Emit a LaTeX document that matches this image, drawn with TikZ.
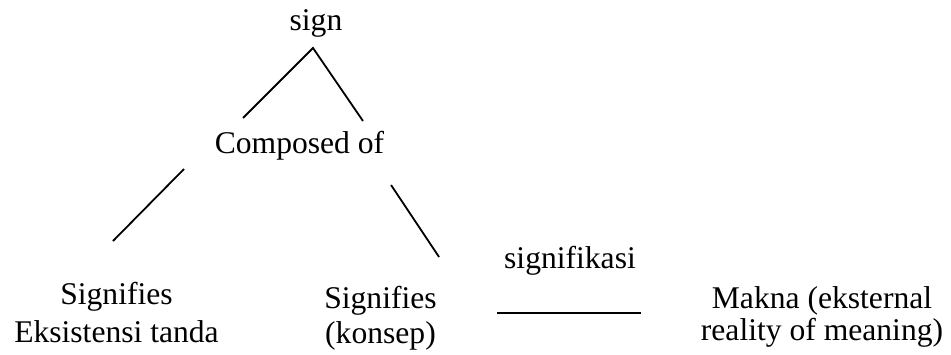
\documentclass[tikz,border=0pt]{standalone}
\usepackage{fontspec}
\setmainfont{Liberation Serif}
\begin{document}
\begin{tikzpicture}[x=0.5pt,y=-0.5pt,
  lbl/.style={anchor=base,inner sep=0pt,font=\fontsize{15.8}{19}\selectfont},
  link/.style={line width=0.9pt,black}]
\useasboundingbox (0,0) rectangle (951,354);
\node[lbl] (sign) at (316,30) {sign};
\node[lbl] (comp) at (299.5,153) {Composed of};
\node[lbl] (sigL) at (116.5,304) {Signifies};
\node[lbl] (eks) at (116.5,342) {Eksistensi tanda};
\node[lbl] (sigR) at (380.5,308) {Signifies};
\node[lbl] (kon) at (380.5,343) {(konsep)};
\node[lbl] (sgk) at (570,268) {signifikasi};
\node[lbl] (mak) at (822,308) {Makna (eksternal};
\node[lbl] (real) at (822,340) {reality of meaning)};
\coordinate (apex) at (313,48);
\coordinate (a1) at (243,118);
\coordinate (a2) at (363,121);
\coordinate (b1) at (184,169);
\coordinate (b2) at (113,241);
\coordinate (c1) at (391,185);
\coordinate (c2) at (439,257);
\coordinate (d1) at (497,313);
\coordinate (d2) at (641,313);
\draw[link] (a1) -- (apex) -- (a2);
\draw[link] (b1) -- (b2);
\draw[link] (c1) -- (c2);
\draw[link] (d1) -- (d2);
\end{tikzpicture}
\end{document}
